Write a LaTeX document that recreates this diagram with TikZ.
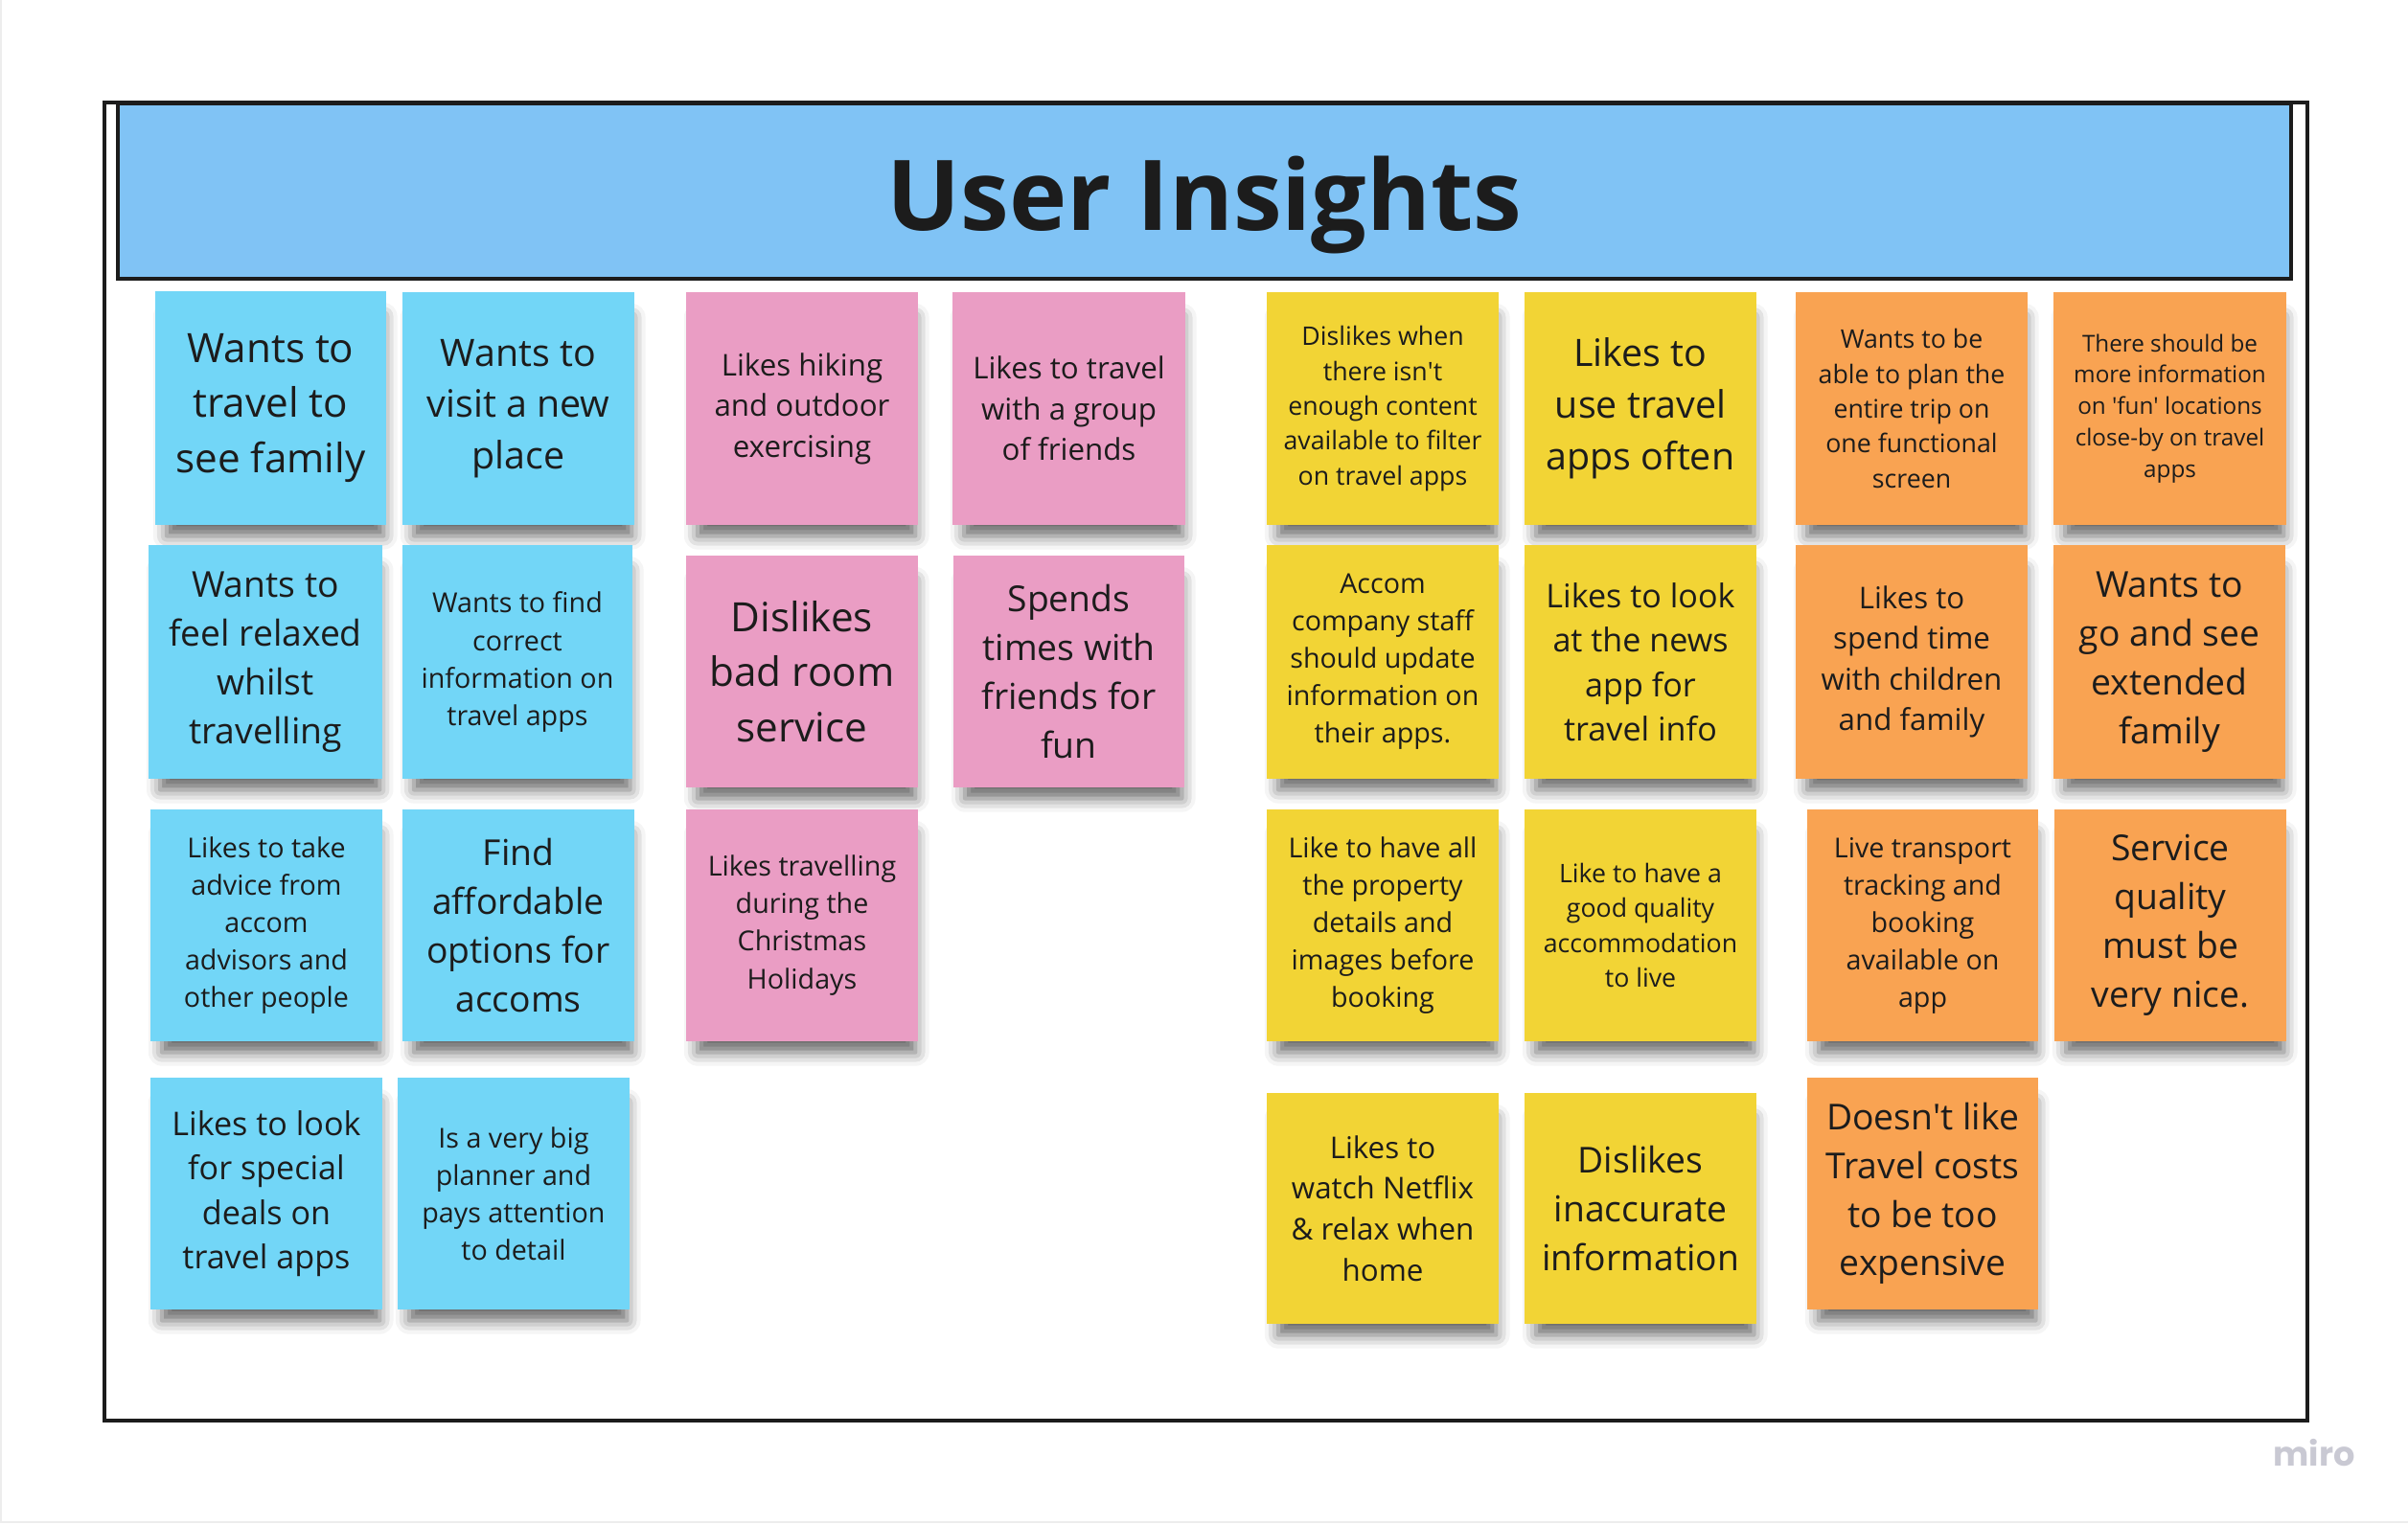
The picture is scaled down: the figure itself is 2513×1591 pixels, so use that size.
\documentclass[tikz,border=0pt]{standalone}
\usepackage{fontspec}
\setmainfont{Open Sans}
\newfontfamily\mirofont{Poppins}
\usetikzlibrary{shadows.blur}
\definecolor{ink}{HTML}{1C1C1C}
\definecolor{headblue}{HTML}{80C3F5}
\definecolor{noteblue}{HTML}{72D6F7}
\definecolor{notepink}{HTML}{EA9DC4}
\definecolor{noteyellow}{HTML}{F2D435}
\definecolor{noteorange}{HTML}{F9A352}
\definecolor{mirogray}{HTML}{C9C9D3}
\tikzset{
  outerframe/.style={draw=ink, line width=1.2pt},
  headbox/.style={draw=ink, line width=1.2pt, fill=headblue},
  note/.style={draw=none, blur shadow={shadow xshift=0.05cm, shadow yshift=-0.2cm, shadow scale=0.94, shadow blur radius=0.15cm, shadow opacity=60}},
  bnote/.style={note, fill=noteblue},
  pnote/.style={note, fill=notepink},
  ynote/.style={note, fill=noteyellow},
  onote/.style={note, fill=noteorange},
  txt/.style={align=center, text=ink, inner sep=0pt},
  fsA/.style={txt, font=\fontsize{12}{16.4}\selectfont},
  fsB/.style={txt, font=\fontsize{11.2}{15.3}\selectfont},
  fsC/.style={txt, font=\fontsize{10.6}{14.45}\selectfont},
  fsD/.style={txt, font=\fontsize{9.7}{13.2}\selectfont},
  fsE/.style={txt, font=\fontsize{8.9}{12.1}\selectfont},
  fsF/.style={txt, font=\fontsize{8.15}{11.1}\selectfont},
  fsG/.style={txt, font=\fontsize{7.6}{10.35}\selectfont},
  fsH/.style={txt, font=\fontsize{6.9}{9.35}\selectfont},
  titletxt/.style={text=ink, inner sep=0pt, font=\fontsize{29}{35}\selectfont\bfseries},
  pageedge/.style={draw=black!7, line width=0.6pt}
}
\begin{document}
\begin{tikzpicture}[x=0.01cm, y=-0.01cm]
\useasboundingbox (0,0) rectangle (2513,1591);
\draw[pageedge] (1,0) -- (1,1589) -- (2513,1589);
\draw[outerframe] (109,107) rectangle (2408,1483);
\draw[headbox] (123,108) rectangle (2391,291);
\node[titletxt, anchor=base] (title) at (1257,240) {User Insights};
% blue
\draw[bnote] (162,304) rectangle (403,548) node[pos=.5, fsA] (b1) {Wants to\\travel to\\see family};
\draw[bnote] (420,305) rectangle (662,548) node[pos=.5, fsB] (b2) {Wants to\\visit a new\\place};
\draw[bnote] (155,569) rectangle (399,813) node[pos=.5, fsC] (b3) {Wants to\\feel relaxed\\whilst\\travelling};
\draw[bnote] (420,569) rectangle (660,813) node[pos=.5, fsF] (b4) {Wants to find\\correct\\information on\\travel apps};
\draw[bnote] (157,845) rectangle (399,1087) node[pos=.5, fsF] (b5) {Likes to take\\advice from\\accom\\advisors and\\other people};
\draw[bnote] (420,845) rectangle (662,1087) node[pos=.5, fsC] (b6) {Find\\affordable\\options for\\accoms};
\draw[bnote] (157,1125) rectangle (399,1367) node[pos=.5, fsD] (b7) {Likes to look\\for special\\deals on\\travel apps};
\draw[bnote] (415,1125) rectangle (657,1367) node[pos=.5, fsF] (b8) {Is a very big\\planner and\\pays attention\\to detail};
% pink
\draw[pnote] (716,305) rectangle (958,548) node[pos=.5, fsE] (p1) {Likes hiking\\and outdoor\\exercising};
\draw[pnote] (994,305) rectangle (1237,548) node[pos=.5, fsE] (p2) {Likes to travel\\with a group\\of friends};
\draw[pnote] (716,580) rectangle (958,822) node[pos=.5, fsA] (p3) {Dislikes\\bad room\\service};
\draw[pnote] (995,580) rectangle (1236,822) node[pos=.5, fsC] (p4) {Spends\\times with\\friends for\\fun};
\draw[pnote] (716,845) rectangle (958,1087) node[pos=.5, fsF] (p5) {Likes travelling\\during the\\Christmas\\Holidays};
% yellow
\draw[ynote] (1322,305) rectangle (1564,548) node[pos=.5, fsG] (y1) {Dislikes when\\there isn\textquotesingle t\\enough content\\available to filter\\on travel apps};
\draw[ynote] (1591,305) rectangle (1833,548) node[pos=.5, fsB] (y2) {Likes to\\use travel\\apps often};
\draw[ynote] (1322,569) rectangle (1564,813) node[pos=.5, fsF] (y3) {Accom\\company staff\\should update\\information on\\their apps.};
\draw[ynote] (1591,569) rectangle (1833,813) node[pos=.5, fsD] (y4) {Likes to look\\at the news\\app for\\travel info};
\draw[ynote] (1322,845) rectangle (1564,1087) node[pos=.5, fsF] (y5) {Like to have all\\the property\\details and\\images before\\booking};
\draw[ynote] (1591,845) rectangle (1833,1087) node[pos=.5, fsG] (y6) {Like to have a\\good quality\\accommodation\\to live};
\draw[ynote] (1322,1141) rectangle (1564,1382) node[pos=.5, fsE] (y7) {Likes to\\watch Netflix\\\& relax when\\home};
\draw[ynote] (1591,1141) rectangle (1833,1382) node[pos=.5, fsC] (y8) {Dislikes\\inaccurate\\information};
% orange
\draw[onote] (1874,305) rectangle (2116,548) node[pos=.5, fsG] (o1) {Wants to be\\able to plan the\\entire trip on\\one functional\\screen};
\draw[onote] (2143,305) rectangle (2386,548) node[pos=.5, fsH] (o2) {There should be\\more information\\on \textquotesingle fun\textquotesingle\ locations\\close-by on travel\\apps};
\draw[onote] (1874,569) rectangle (2116,813) node[pos=.5, fsE] (o3) {Likes to\\spend time\\with children\\and family};
\draw[onote] (2143,569) rectangle (2385,813) node[pos=.5, fsC] (o4) {Wants to\\go and see\\extended\\family};
\draw[onote] (1886,845) rectangle (2127,1087) node[pos=.5, fsF] (o5) {Live transport\\tracking and\\booking\\available on\\app};
\draw[onote] (2144,845) rectangle (2386,1087) node[pos=.5, fsC] (o6) {Service\\quality\\must be\\very nice.};
\draw[onote] (1886,1125) rectangle (2127,1367) node[pos=.5, fsC] (o7) {Doesn\textquotesingle t like\\Travel costs\\to be too\\expensive};
\node[text=mirogray, font=\mirofont\fontsize{10}{12}\selectfont\bfseries] (miro) at (2415,1517) {miro};
\end{tikzpicture}
\end{document}
